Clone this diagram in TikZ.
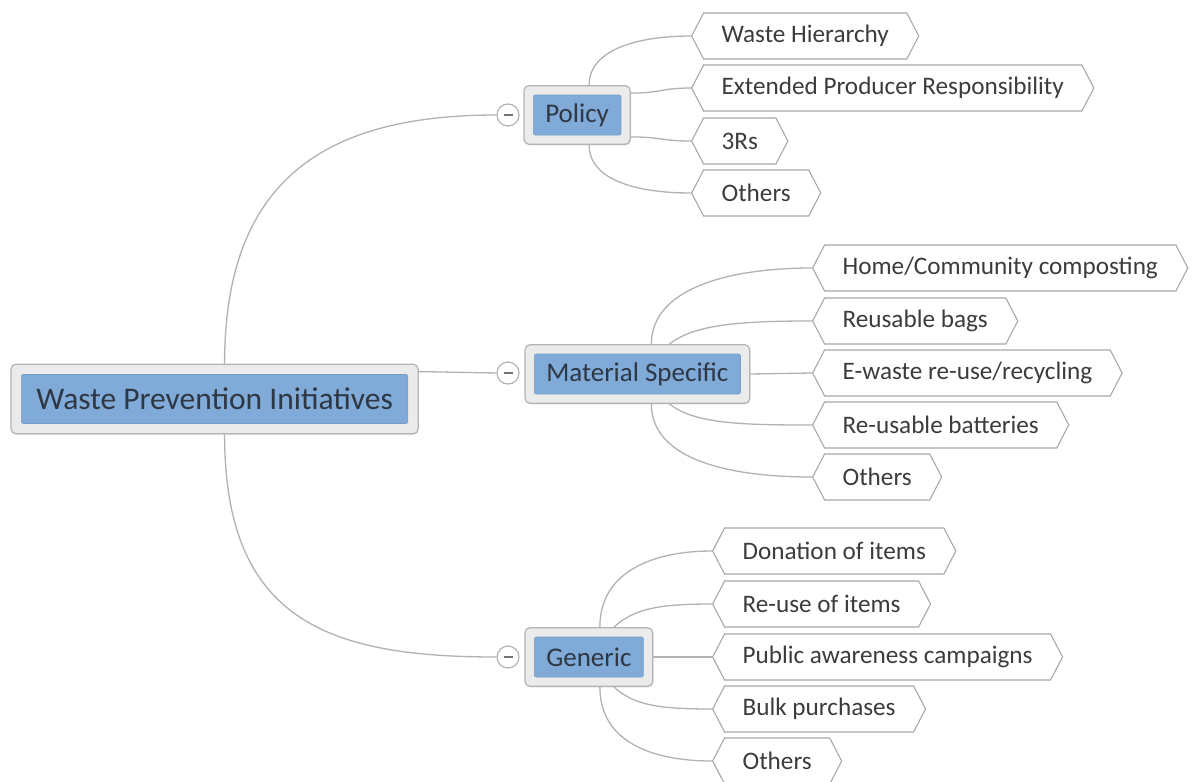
\documentclass[tikz,border=0pt]{standalone}
\usepackage{fontspec}
\setmainfont{Carlito}
\usetikzlibrary{shapes.symbols,fit,shadows,backgrounds}
\definecolor{conncol}{HTML}{B2B2B2}
\definecolor{boxborder}{HTML}{B4B4B4}
\definecolor{boxfill}{HTML}{EBEBEB}
\definecolor{blueone}{HTML}{80AAD7}
\definecolor{txtcol}{HTML}{2E3744}
\definecolor{leaftxt}{HTML}{3C3C3C}
\definecolor{leafborder}{HTML}{A8A8A8}
\begin{document}
\begin{tikzpicture}[x=1pt,y=-1pt,
  conn/.style={draw=conncol,line width=1.3pt},
  inbox/.style={fill=blueone,draw=blueone!92!black,line width=0.6pt,rounded corners=2pt,text=txtcol,inner xsep=12pt,inner ysep=0pt,minimum height=40pt,anchor=west,font=\fontsize{27}{30}\selectfont},
  outbox/.style={fill=boxfill,draw=boxborder,line width=1.2pt,rounded corners=5pt,inner sep=9pt,drop shadow={shadow xshift=0.8pt,shadow yshift=-1.2pt,opacity=0.18}},
  leaf/.style={shape=signal,signal to=west and east,signal pointer angle=125,draw=leafborder,line width=1.1pt,fill=white,text=leaftxt,minimum height=46pt,inner xsep=18pt,inner ysep=0pt,anchor=west,font=\fontsize{25.2}{28}\selectfont},
  minus/.style={circle,draw=boxborder,fill=white,line width=1.2pt,minimum size=22pt,inner sep=0pt}
]
\useasboundingbox (0,0) rectangle (1195,782);
% inner (blue) boxes
\node[inbox,font=\fontsize{31.5}{34}\selectfont,minimum height=49pt,inner xsep=15pt] (rootin) at (21,399) {Waste Prevention Initiatives};
\node[inbox] (polin) at (533,115) {Policy};
\node[inbox] (matin) at (534,374) {Material Specific};
\node[inbox] (genin) at (534,657) {Generic};
\begin{scope}[on background layer]
  \fill[white] (0,0) rectangle (1195,782);
  \node[outbox,inner sep=10pt,fit=(rootin)] (root) {};
  \node[outbox,fit=(polin)] (pol) {};
  \node[outbox,fit=(matin)] (mat) {};
  \node[outbox,fit=(genin)] (gen) {};
\end{scope}
% collapse circles
\node[minus] (cpol) at (508,115) {\textcolor{black!55}{\rule{9pt}{2pt}}};
\node[minus] (cmat) at (508,373) {\textcolor{black!55}{\rule{9pt}{2pt}}};
\node[minus] (cgen) at (508,657) {\textcolor{black!55}{\rule{9pt}{2pt}}};
% leaves
\node[leaf] (l11) at (691,36) {Waste Hierarchy};
\node[leaf] (l12) at (691,88) {Extended Producer Responsibility};
\node[leaf] (l13) at (691,141) {3Rs};
\node[leaf] (l14) at (691,193) {Others};
\node[leaf] (l21) at (812,268) {Home/Community composting};
\node[leaf] (l22) at (812,321) {Reusable bags};
\node[leaf] (l23) at (812,373) {E-waste re-use/recycling};
\node[leaf] (l24) at (812,425) {Re-usable batteries};
\node[leaf] (l25) at (812,477) {Others};
\node[leaf] (l31) at (712,551) {Donation of items};
\node[leaf] (l32) at (712,604) {Re-use of items};
\node[leaf] (l33) at (712,657) {Public awareness campaigns};
\node[leaf] (l34) at (712,709) {Bulk purchases};
\node[leaf] (l35) at (712,761) {Others};
% main connectors
\draw[conn] ([xshift=10pt]root.north) .. controls +(0,-185) and +(-170,0) .. (cpol.west);
\draw[conn] ([yshift=-8pt]root.north east) -- (cmat.west);
\draw[conn] ([xshift=10pt]root.south) .. controls +(0,185) and +(-170,0) .. (cgen.west);
% policy connectors
\draw[conn] ([xshift=12pt]pol.north) .. controls +(0,-35) and +(-55,0) .. (l11.west);
\draw[conn] ([yshift=-8pt]pol.north east) .. controls +(30,0) and +(-30,0) .. (l12.west);
\draw[conn] ([yshift=8pt]pol.south east) .. controls +(30,0) and +(-30,0) .. (l13.west);
\draw[conn] ([xshift=12pt]pol.south) .. controls +(0,35) and +(-55,0) .. (l14.west);
% material connectors
\draw[conn] ([xshift=14pt]mat.north) .. controls +(0,-55) and +(-85,0) .. (l21.west);
\draw[conn] ([xshift=32pt]mat.north) .. controls +(25,-20) and +(-70,0) .. (l22.west);
\draw[conn] (mat.east) -- (l23.west);
\draw[conn] ([xshift=32pt]mat.south) .. controls +(25,20) and +(-70,0) .. (l24.west);
\draw[conn] ([xshift=14pt]mat.south) .. controls +(0,55) and +(-85,0) .. (l25.west);
% generic connectors
\draw[conn] ([xshift=11pt]gen.north) .. controls +(0,-55) and +(-60,0) .. (l31.west);
\draw[conn] ([xshift=25pt]gen.north) .. controls +(20,-18) and +(-55,0) .. (l32.west);
\draw[conn] (gen.east) -- (l33.west);
\draw[conn] ([xshift=25pt]gen.south) .. controls +(20,18) and +(-55,0) .. (l34.west);
\draw[conn] ([xshift=11pt]gen.south) .. controls +(0,55) and +(-60,0) .. (l35.west);
\end{tikzpicture}
\end{document}
